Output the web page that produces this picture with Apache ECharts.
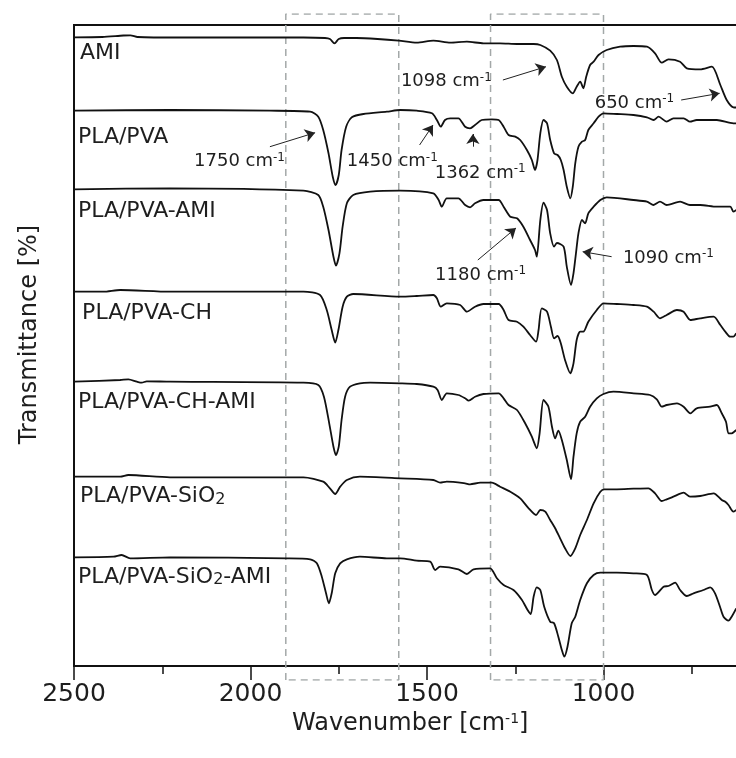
<!DOCTYPE html>
<html><head><meta charset="utf-8">
<script src="https://cdn.jsdelivr.net/npm/echarts@6/dist/echarts.min.js"></script>
<style>html,body{margin:0;padding:0;background:#fff}#c{width:736px;height:758px}</style>
</head><body><div id="c"></div>
<script>
// x = wavenumber [cm-1], y = transmittance (offset, arbitrary units)
const sampleNames = ['AMI','PLA/PVA','PLA/PVA-AMI','PLA/PVA-CH','PLA/PVA-CH-AMI','PLA/PVA-SiO2','PLA/PVA-SiO2-AMI'];
const xTicks = [2500, 2000, 1500, 1000];
const boxes = [[1900, 1580], [1320, 1000]];

const specAMI = [[2500,62.87],[2420,62.9],[2360,63.05],[2340,63.07],[2320,62.9],[2200,62.85],[2000,62.85],[1850,62.85],[1789,62.8],[1775,62.7],[1762,62.27],[1750,62.7],[1735,62.8],[1700,62.8],[1640,62.7],[1580,62.53],[1529,62.33],[1482,62.53],[1434,62.33],[1387,62.43],[1340,62.27],[1293,62.27],[1245,62.2],[1198,62.2],[1179,62.1],[1151,61.53],[1132,60.6],[1118,58.93],[1104,57.93],[1087,57.27],[1076,57.93],[1066,58.43],[1057,57.77],[1049,58.93],[1038,60.1],[1028,60.43],[1014,61.1],[991,61.6],[953,61.93],[915,62],[877,61.93],[854,61.27],[835,60.33],[816,60.67],[783,60.43],[764,59.77],[726,59.67],[693,59.93],[669,58.1],[651,56.6],[632,55.87],[620,55.85]];

const specPLAPVA = [[2500,55.53],[2228,55.6],[1945,55.53],[1831,55.43],[1808,54.93],[1794,53.6],[1779,51.27],[1767,48.93],[1759,48.1],[1750,49.1],[1742,51.6],[1729,53.93],[1713,54.87],[1680,55.2],[1614,55.43],[1576,55.6],[1529,55.53],[1486,55.27],[1472,54.6],[1461,53.93],[1449,54.6],[1434,54.77],[1411,54.77],[1392,53.93],[1378,53.77],[1364,54.1],[1345,54.6],[1316,54.67],[1297,54.6],[1283,53.93],[1269,53.1],[1250,52.93],[1236,52.6],[1217,51.6],[1203,50.6],[1194,49.6],[1187,50.6],[1179,53.27],[1170,54.6],[1160,54.27],[1151,52.6],[1140,51.27],[1130,51.1],[1121,50.6],[1113,49.6],[1104,47.93],[1094,46.77],[1087,47.93],[1080,50.27],[1071,51.93],[1061,52.43],[1052,52.6],[1043,53.6],[1028,54.27],[1014,54.93],[1000,55.27],[962,55.2],[915,55.1],[877,54.87],[858,54.6],[844,54.93],[821,54.43],[802,54.77],[773,54.77],[755,54.43],[736,54.6],[679,54.6],[632,54.27],[620,54.27]];

const specPLAPVA_AMI = [[2500,47.67],[2228,47.77],[1850,47.53],[1808,47.1],[1794,45.93],[1779,43.6],[1765,40.93],[1758,40.03],[1748,41.27],[1739,43.93],[1727,46.27],[1709,47.1],[1661,47.43],[1576,47.53],[1482,47.27],[1467,46.6],[1458,45.93],[1444,46.77],[1411,46.77],[1392,46.1],[1378,45.87],[1364,46.27],[1340,46.6],[1297,46.6],[1283,45.93],[1264,44.93],[1245,44.77],[1227,43.93],[1208,42.6],[1194,41.6],[1189,40.93],[1179,44.6],[1170,46.33],[1160,45.6],[1151,43.27],[1140,41.93],[1132,42.3],[1113,41.93],[1104,39.93],[1092,38.1],[1085,39.27],[1078,41.27],[1071,43.27],[1061,44.6],[1052,44.27],[1043,45.27],[1028,45.93],[1009,46.6],[991,46.87],[915,46.6],[877,46.43],[858,46.1],[840,46.43],[821,46.1],[783,46.43],[755,46.1],[726,46.1],[679,45.93],[641,45.93],[632,45.43],[624,45.6]];

const specPLAPVA_CH = [[2500,37.43],[2417,37.43],[2369,37.6],[2228,37.43],[1850,37.43],[1803,37.1],[1784,35.6],[1770,33.6],[1760,32.33],[1751,33.6],[1739,35.93],[1727,36.93],[1709,37.2],[1576,36.93],[1529,37],[1482,37.1],[1472,36.77],[1461,35.93],[1444,36.27],[1406,36.1],[1387,35.43],[1364,35.93],[1340,36.2],[1297,36.2],[1283,35.6],[1269,34.6],[1245,34.43],[1227,33.93],[1208,33.1],[1191,32.43],[1184,33.6],[1175,35.77],[1160,35.43],[1149,33.93],[1140,32.77],[1130,33],[1121,32.27],[1109,30.6],[1094,29.27],[1085,30.27],[1076,32.6],[1066,33.43],[1057,33.43],[1043,34.43],[1019,35.6],[1000,36.27],[962,36.2],[915,36.1],[877,35.93],[858,35.43],[840,34.77],[821,35.1],[792,35.6],[773,35.43],[754,34.6],[726,34.77],[688,34.93],[669,34.1],[655,33.43],[641,32.93],[632,32.93],[624,33.27]];

const specPLAPVA_CH_AMI = [[2500,28.43],[2369,28.6],[2346,28.67],[2322,28.43],[2308,28.33],[2294,28.47],[2228,28.43],[1850,28.33],[1808,28.1],[1792,26.93],[1777,24.27],[1765,21.93],[1758,21.1],[1750,21.93],[1742,24.6],[1732,26.93],[1718,27.93],[1690,28.27],[1661,28.33],[1576,28.27],[1529,28.2],[1482,27.93],[1470,27.6],[1458,26.6],[1444,27.27],[1411,27.1],[1392,26.77],[1382,26.53],[1364,26.93],[1340,27.2],[1297,27.27],[1283,26.77],[1269,26.1],[1245,25.6],[1222,24.27],[1203,22.93],[1189,21.77],[1181,23.27],[1170,26.6],[1156,25.93],[1146,23.93],[1137,22.77],[1128,23.53],[1118,22.6],[1104,20.6],[1092,18.67],[1085,20.93],[1076,23.27],[1066,24.43],[1052,24.93],[1038,25.93],[1019,26.77],[1000,27.2],[972,27.43],[915,27.27],[868,27.1],[849,26.67],[835,25.93],[821,26.1],[792,26.27],[773,25.93],[754,25.27],[736,25.77],[698,25.93],[679,26.1],[665,25.27],[653,24.43],[646,23.27],[637,23.27],[624,23.6]];

const specPLAPVA_SiO2 = [[2500,18.93],[2369,18.93],[2346,19.1],[2228,18.87],[1850,18.87],[1794,18.43],[1775,17.77],[1760,17.2],[1746,17.93],[1727,18.6],[1690,18.93],[1576,18.77],[1482,18.6],[1463,18.33],[1444,18.43],[1392,18.27],[1378,18.17],[1349,18.33],[1316,18.33],[1293,17.93],[1264,17.43],[1236,16.77],[1212,15.77],[1191,15.1],[1179,15.6],[1165,15.43],[1151,14.6],[1137,13.77],[1123,12.77],[1109,11.77],[1094,11],[1080,11.77],[1066,13.1],[1047,14.6],[1028,16.27],[1009,17.43],[998,17.67],[962,17.67],[915,17.73],[873,17.77],[854,17.27],[835,16.5],[821,16.67],[802,16.93],[773,17.33],[755,16.93],[726,17],[688,17.27],[665,16.6],[655,16.43],[646,16.1],[632,15.43],[624,15.6]];

const specPLAPVA_SiO2_AMI = [[2500,10.87],[2388,10.93],[2365,11.1],[2341,10.77],[2228,10.87],[1897,10.77],[1831,10.67],[1812,10.27],[1798,8.93],[1786,7.27],[1778,6.27],[1770,7.27],[1760,9.27],[1746,10.27],[1727,10.67],[1690,10.93],[1614,10.77],[1576,10.77],[1529,10.53],[1491,10.43],[1477,9.6],[1463,9.93],[1411,9.67],[1387,9.2],[1368,9.67],[1321,9.77],[1302,8.77],[1283,8.1],[1255,7.6],[1231,6.6],[1215,5.6],[1206,5.2],[1198,6.93],[1189,7.87],[1179,7.6],[1168,5.93],[1151,4.43],[1140,4.27],[1128,2.93],[1118,1.6],[1111,0.93],[1102,1.93],[1090,4.27],[1080,4.93],[1066,6.6],[1047,8.27],[1028,9.1],[1009,9.33],[962,9.33],[915,9.27],[877,9.1],[863,7.6],[854,7.1],[830,7.93],[816,8],[797,8.33],[783,7.6],[764,7],[745,7.27],[717,7.6],[698,7.87],[684,7.27],[670,5.93],[660,4.93],[646,4.53],[637,4.93],[624,5.77]];

const spectra = [specAMI, specPLAPVA, specPLAPVA_AMI, specPLAPVA_CH, specPLAPVA_CH_AMI, specPLAPVA_SiO2, specPLAPVA_SiO2_AMI];

// sample name label anchors [wavenumber, y]
const nameAnchors = [[2483,61.3],[2489,52.9],[2489,45.43],[2477,35.27],[2489,26.33],[2483,16.93],[2489,8.87]];

// peak annotations: text, anchor, arrow start, arrow end
const peakTexts = ['1750','1450','1362','1098','650','1180','1090'];
const peakTextAnchors = [[2160,50.43],[1727,50.43],[1478,49.27],[1574,58.43],[1025,56.27],[1477,39.1],[945,40.77]];
const arrowFrom = [[1945,51.93],[1521,52.1],[1370,51.93],[1285,58.6],[780,56.6],[1356,40.6],[977,40.93]];
const arrowTo = [[1817,53.33],[1483,54.1],[1370,53.2],[1163,59.93],[671,57.27],[1248,43.8],[1059,41.43]];

const FONT = 'DejaVu Sans';
const TXT = '#1e1e1e';
const rich = {
  n: {fontSize: 22, color: TXT, fontFamily: FONT},
  sub: {fontSize: 16, color: TXT, fontFamily: FONT, verticalAlign: 'bottom'},
  p: {fontSize: 18, color: TXT, fontFamily: FONT},
  sup: {fontSize: 12, color: TXT, fontFamily: FONT, verticalAlign: 'top', padding: [0, 0, 8, 0]}
};
function nameFmt(s) {
  return '{n|' + s.replace(/SiO2/, 'SiO}{sub|2}{n|') + '}';
}

const series = [];
spectra.forEach((d, i) => {
  series.push({
    type: 'line', name: sampleNames[i], data: d, showSymbol: false, symbol: 'none',
    smooth: 0.25, lineStyle: {color: '#111', width: 1.8}, silent: true, z: 3
  });
});
series.push({
  type: 'scatter', symbolSize: 0, silent: true, z: 5,
  itemStyle: {opacity: 1},
  data: nameAnchors.map((a, i) => ({
    value: a,
    label: {show: true, opacity: 1, position: 'right', distance: 0, formatter: nameFmt(sampleNames[i]), rich: rich}
  })).concat(peakTextAnchors.map((a, i) => ({
    value: a,
    label: {show: true, opacity: 1, position: 'right', distance: 0, formatter: '{p|' + peakTexts[i] + ' cm}{sup|-1}', rich: rich}
  })))
});
series.push({
  type: 'line', data: [], silent: true, z: 6,
  markLine: {
    silent: true, symbol: ['none', 'arrow'], symbolSize: 10, animation: false,
    label: {show: false},
    lineStyle: {color: '#222', width: 1, type: 'solid', opacity: 1},
    itemStyle: {color: '#222'},
    data: arrowFrom.map((f, i) => [{coord: f}, {coord: arrowTo[i]}])
  }
});
boxes.forEach(b => {
  series.push({
    type: 'line', xAxisIndex: 1, yAxisIndex: 1, showSymbol: false, symbol: 'none', silent: true, z: 2,
    data: [[b[0], 0], [b[0], 1], [b[1], 1], [b[1], 0], [b[0], 0]],
    lineStyle: {color: '#a3a8a8', width: 1.5, type: [7, 5]}
  });
});

const chart = echarts.init(document.getElementById('c'), null, {renderer: 'canvas'});
chart.setOption({
  animation: false,
  backgroundColor: '#fff',
  title: {
    text: '{a|Wavenumber [cm}{s|-1}{a|]}',
    left: 287, top: 707,
    textStyle: {fontWeight: 'normal', rich: {
      a: {fontSize: 24, color: TXT, fontFamily: FONT, fontWeight: 'normal'},
      s: {fontSize: 14, color: TXT, fontFamily: FONT, fontWeight: 'normal', verticalAlign: 'top', padding: [0, 0, 10, 0]}
    }}
  },
  grid: [
    {left: 74, width: 706, top: 25, bottom: 92, show: true, borderColor: '#111', borderWidth: 2, backgroundColor: 'transparent', outerBoundsMode: 'none', containLabel: false},
    {left: 74, width: 706, top: 14, bottom: 78, show: false, outerBoundsMode: 'none', containLabel: false}
  ],
  xAxis: [{
    type: 'value', min: 500, max: 2500, interval: 500, inverse: true, gridIndex: 0,
    axisLine: {show: true, lineStyle: {color: '#111', width: 2}},
    axisTick: {show: true, length: 14, lineStyle: {color: '#111', width: 1.5}},
    minorTick: {show: true, splitNumber: 2, length: 8, lineStyle: {color: '#111', width: 1.5}},
    splitLine: {show: false},
    axisLabel: {
      fontSize: 25, color: TXT, fontFamily: FONT, margin: 16,
      formatter: v => xTicks.indexOf(v) >= 0 ? String(v) : ''
    }
  }, {
    type: 'value', min: 500, max: 2500, inverse: true, gridIndex: 1, show: false
  }],
  yAxis: [{
    type: 'value', min: 0, max: 64.1, gridIndex: 0,
    name: 'Transmittance [%]', nameLocation: 'middle', nameGap: 32,
    nameTextStyle: {fontSize: 24, color: TXT, fontFamily: FONT, padding: [0, 0, 0, 22]},
    axisLine: {show: true, lineStyle: {color: '#111', width: 2}},
    axisTick: {show: false}, axisLabel: {show: false}, splitLine: {show: false}
  }, {
    type: 'value', min: 0, max: 1, gridIndex: 1, show: false
  }],
  series: series
});
</script>
</body></html>
